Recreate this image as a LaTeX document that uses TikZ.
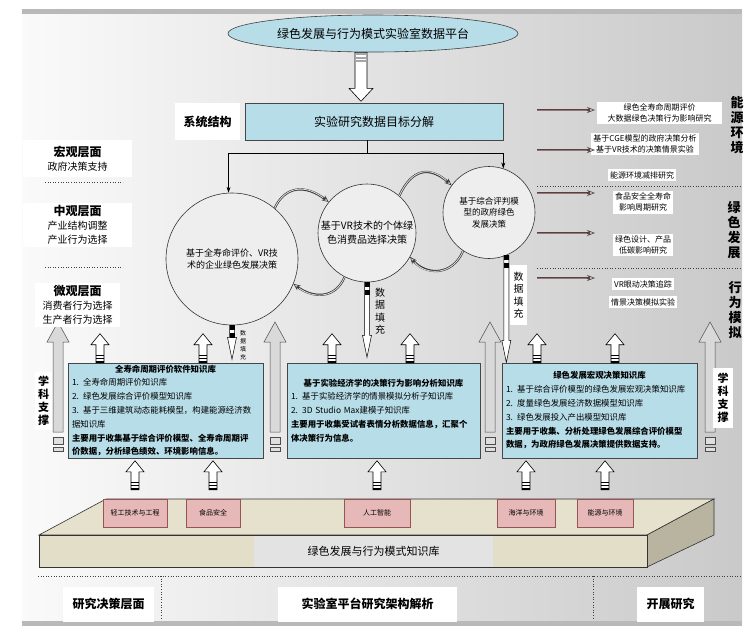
\documentclass[tikz,border=0pt]{standalone}
\usepackage{fontspec}
\setmainfont{Noto Sans CJK SC}
\usetikzlibrary{arrows.meta,positioning,calc,shapes.geometric}
\definecolor{labblue}{RGB}{183,221,232}
\definecolor{labpink}{RGB}{230,185,184}
\definecolor{labrose}{RGB}{150,85,85}
\definecolor{slabtop}{RGB}{229,225,205}
\definecolor{slabfront}{RGB}{226,222,200}
\definecolor{slabside}{RGB}{184,180,160}
\definecolor{tagbrown}{RGB}{150,120,120}
\newcommand{\fsz}[2]{\fontsize{#1}{#2}\selectfont}

\begin{document}
\begin{tikzpicture}[x=1pt,y=-1pt,
  bluebox/.style={draw=gray!55!black,fill=labblue,line width=0.6pt},
  kbbox/.style={bluebox,minimum width=195,minimum height=95,text width=187,
                align=left,inner xsep=4pt,inner ysep=1pt,font=\fsz{8.4}{13.8}},
  bubble/.style={circle,draw=gray!40!black,fill=gray!13,line width=0.6pt,
                 align=center,inner sep=0pt},
  pinkbox/.style={draw=labrose,fill=labpink,minimum height=28,font=\fsz{7}{8}},
  whitetag/.style={fill=white,align=center,inner sep=2pt},
  tag/.style={whitetag,font=\fsz{8}{11.5}},
  vlabel/.style={align=center,font=\fsz{13}{15}\bfseries},
  sublabel/.style={whitetag,minimum width=109,font=\fsz{10}{14}},
  arr/.style={-{Stealth[length=6pt,width=4pt]},line width=0.6pt},
  link/.style={line width=2.2pt,draw=gray!45!black,
               -{Stealth[length=7pt,width=6pt,line width=0.6pt,fill=gray!25]},
               postaction={draw=gray!25,line width=0.8pt,-,shorten >=7pt}},
  tagarr/.style={line width=2.4pt,draw=tagbrown!55!black,
               -{Stealth[length=8pt,width=6pt,line width=0.6pt,fill=tagbrown!35]},
               postaction={draw=tagbrown,line width=1pt,-,shorten >=8pt}},
  dotline/.style={dotted,gray!50!black,line width=0.6pt},
  upblock/.pic={
    \draw[fill=white,line width=0.6pt] (-4,0) -- (-4,-18) -- (-9,-18) -- (0,-29)
      -- (9,-18) -- (4,-18) -- (4,0) -- cycle;
    \fill (-4,0) rectangle (4,-2.2);
    \fill (-4,-3.6) rectangle (4,-5.2);
    \fill (-4,-6.6) rectangle (4,-7.6);
  },
  downblock/.pic={
    \draw[fill=white,line width=0.6pt] (-6,0) -- (-6,36) -- (-12,36) -- (0,49)
      -- (12,36) -- (6,36) -- (6,0) -- cycle;
    \foreach \yy in {1,4.5,8} \fill[gray!70] (-6,\yy) rectangle (6,\yy+2);
  },
  sciarr/.pic={
    \draw[fill=gray!30,draw=gray!60!black,line width=0.5pt] (-5,0) -- (-5,-90)
      -- (-11,-90) -- (0,-110) -- (11,-90) -- (5,-90) -- (5,0) -- cycle;
    \draw[fill=gray!25,draw=gray!60!black,line width=0.5pt] (-5,5) rectangle (5,12);
    \draw[fill=gray!25,draw=gray!60!black,line width=0.5pt] (-5,15) rectangle (5,19);
  },
  dataarr/.pic={
    \draw[fill=white,line width=0.5pt] (-2.5,0) -- (-2.5,{#1-22}) -- (-4.5,{#1-22})
      -- (0,#1) -- (4.5,{#1-22}) -- (2.5,{#1-22}) -- (2.5,0) -- cycle;
    \fill (-2.5,0) rectangle (2.5,5);
    \fill (-2.5,8) rectangle (2.5,13);
  }
]
\useasboundingbox (0,0) rectangle (750,630);

% panel
\shade[left color=gray!4,right color=gray!42] (22,14) rectangle (742,621);
\fill[gray!55] (22,9) rectangle (742,14);
\fill[gray!55] (22,621) rectangle (742,626);

% platform and goal
\node[ellipse,draw=gray!50!black,fill=labblue,line width=0.6pt,minimum width=290,
      minimum height=37,font=\fsz{12}{14}] (plat) at (373,33.5) {绿色发展与行为模式实验室数据平台};
\node[bluebox,minimum width=258,minimum height=37,font=\fsz{12}{14}] (goal) at (374,121.5) {实验研究数据目标分解};
\node[whitetag,minimum width=65,minimum height=37,font=\fsz{12}{14}\bfseries] (sys) at (207.5,121.5) {系统结构};
\pic at ($(plat.south)+(-12,0)$) {downblock};

% decision circles
\node[bubble,minimum size=132,font=\fsz{9}{12.5}] (c1) at (232,259) {基于全寿命评价、VR技\\术的企业绿色发展决策};
\node[bubble,minimum size=98,font=\fsz{10}{14}] (c2) at (367,233) {基于VR技术的个体绿\\色消费品选择决策};
\node[bubble,minimum size=92,font=\fsz{8.5}{11.5}] (c3) at (489,212.5) {基于综合评判模\\型的政府绿色\\发展决策};

\coordinate (hub) at ($(goal.south -| c2.center)+(0,13)$);
\draw[line width=0.6pt] (goal.south -| c2.center) -- (hub);
\draw[arr] (hub) -| (c1.93);
\draw[arr] (hub) -| (c3.72);

\draw[link] (c1.50) .. controls (285,186) and (305,184) .. (c2.141);
\draw[link] (c2.243) .. controls (335,300) and (312,298) .. (c1.338);
\draw[link] (c2.49) .. controls (412,168) and (430,166) .. (c3.144);
\draw[link] (c3.236) .. controls (452,277) and (425,275) .. (c2.331);

% data fill
\pic at (c1.south) {dataarr=34};
\pic at (c2.south) {dataarr=75};
\pic at (c3.292) {dataarr=107};
\node[align=center,font=\fsz{6}{8}] (d1) at (243,345) {数\\据\\填\\充};
\node[align=center,font=\fsz{10}{12.5}] (d2) at (380,311) {数\\据\\填\\充};
\node[whitetag,minimum width=17,minimum height=60,font=\fsz{10}{12.5}] (d3) at (518.5,295) {数\\据\\填\\充};

% knowledge bases
\node[kbbox] (kb1) at (165.5,410.5) {\makebox[187pt]{\bfseries 全寿命周期评价软件知识库}\\
  1. 全寿命周期评价知识库\\
  2. 绿色发展综合评价模型知识库\\
  3. 基于三维建筑动态能耗模型，构建能源经济数\\
  据知识库\\
  {\bfseries 主要用于收集基于综合评价模型、全寿命周期评}\\
  {\bfseries 价数据，分析绿色绩效、环境影响信息。}};
\node[kbbox,minimum width=193,text width=185] (kb2) at (383.5,410.5) {\makebox[185pt]{\bfseries 基于实验经济学的决策行为影响分析知识库}\\
  1. 基于实验经济学的情景模拟分析子知识库\\
  2. 3D Studio Max建模子知识库\\
  {\bfseries 主要用于收集受试者表情分析数据信息，汇聚个}\\
  {\bfseries 体决策行为信息。}};
\node[kbbox] (kb3) at (599.5,410.5) {\makebox[187pt]{\bfseries 绿色发展宏观决策知识库}\\
  1. 基于综合评价模型的绿色发展宏观决策知识库\\
  2. 度量绿色发展经济数据模型知识库\\
  3. 绿色发展投入产出模型知识库\\
  {\bfseries 主要用于收集、分析处理绿色发展综合评价模型}\\
  {\bfseries 数据，为政府绿色发展决策提供数据支持。}};

\foreach \bx/\dx in {kb1/-65.5,kb1/37.5,kb2/-51.5,kb2/26.5,kb3/-62.5,kb3/15.5}
  \pic at ($(\bx.north)+(\dx,0)$) {upblock};

% discipline support
\foreach \xx in {58,275,490,710} \pic at (\xx,432) {sciarr};
\node[whitetag,minimum width=17,minimum height=58,font=\fsz{11}{13}\bfseries] (sci1) at (43.5,401) {学\\科\\支\\撑};
\node[whitetag,minimum width=20,minimum height=60,font=\fsz{11}{13}\bfseries] (sci2) at (723,398) {学\\科\\支\\撑};

% knowledge slab
\filldraw[fill=slabtop,draw=gray!40!black,line width=0.6pt] (39,535) -- (106,499) -- (714,499) -- (647,535) -- cycle;
\filldraw[fill=slabside,draw=gray!40!black,line width=0.6pt] (647,535) -- (714,499) -- (714,535) -- (647,567) -- cycle;
\filldraw[fill=slabfront,draw=gray!40!black,line width=0.6pt] (39,535) rectangle (647,567);
\node[fill=gray!22,minimum width=239,minimum height=31,font=\fsz{11}{13}] (kbase) at (373.5,551) {绿色发展与行为模式知识库};

\node[pinkbox,minimum width=64] (p1) at (135,513) {轻工技术与工程};
\node[pinkbox,minimum width=54] (p2) at (213,513) {食品安全};
\node[pinkbox,minimum width=66] (p3) at (377,513) {人工智能};
\node[pinkbox,minimum width=58] (p4) at (526,513) {海洋与环境};
\node[pinkbox,minimum width=56] (p5) at (605,513) {能源与环境};
\foreach \p in {p1,p2,p3,p4,p5} \pic at ($(\p.north)+(0,-9)$) {upblock};

% left levels
\node[sublabel,minimum height=37] (macro) at (77.5,158.5) {{\fsz{12}{14}\bfseries 宏观层面}\\政府决策支持};
\draw[dotline] (45,182) -- (123,182);
\node[sublabel,minimum height=44] (meso) at (77.5,225) {{\fsz{12}{14}\bfseries 中观层面}\\产业结构调整\\产业行为选择};
\draw[dotline] (45,267) -- (123,267);
\node[sublabel,minimum width=85,minimum height=44] (micro) at (77.5,305) {{\fsz{12}{14}\bfseries 微观层面}\\消费者行为选择\\生产者行为选择};

% right research tags
\node[tag,minimum width=125] (t1) at (659.5,113) {绿色全寿命周期评价\\大数据绿色决策行为影响研究};
\node[tag] (t2) at (645,144) {基于CGE模型的政府决策分析\\基于VR技术的决策情景实验};
\node[tag] (t3) at (642,175) {能源环境减排研究};
\node[tag] (t4) at (643,202) {食品安全全寿命\\影响周期研究};
\node[tag] (t5) at (643,245) {绿色设计、产品\\低碳影响研究};
\node[tag] (t6) at (643,284) {VR眼动决策追踪};
\node[tag] (t7) at (643,302) {情景决策模拟实验};
\draw[tagarr] (537,110) -- (595,110);
\draw[tagarr] (537,150) -- (595,150);
\draw[tagarr] (537,193) -- (595,193);
\draw[tagarr] (537,233) -- (595,233);
\draw[tagarr] (537,278) -- (595,278);
\draw[dotline] (537,186) -- (742,186);
\draw[dotline] (537,268) -- (742,268);
\node[vlabel] (energy) at (737,125) {能\\源\\环\\境};
\node[vlabel] (green) at (734,230) {绿\\色\\发\\展};
\node[vlabel] (behav) at (735,310) {行\\为\\模\\拟};

% bottom
\draw[dotline] (38,576) -- (742,576);
\draw[dotline] (161,576) -- (161,620);
\draw[dotline] (593,576) -- (593,620);
\node[whitetag,minimum width=91,minimum height=35,font=\fsz{12}{14}\bfseries] (lvl) at (108.5,604) {研究决策层面};
\node[whitetag,minimum width=179,minimum height=35,font=\fsz{12}{14}\bfseries] (arch) at (367.5,604) {实验室平台研究架构解析};
\node[whitetag,minimum width=67,minimum height=35,font=\fsz{12}{14}\bfseries] (study) at (670.5,604) {开展研究};
\end{tikzpicture}
\end{document}
